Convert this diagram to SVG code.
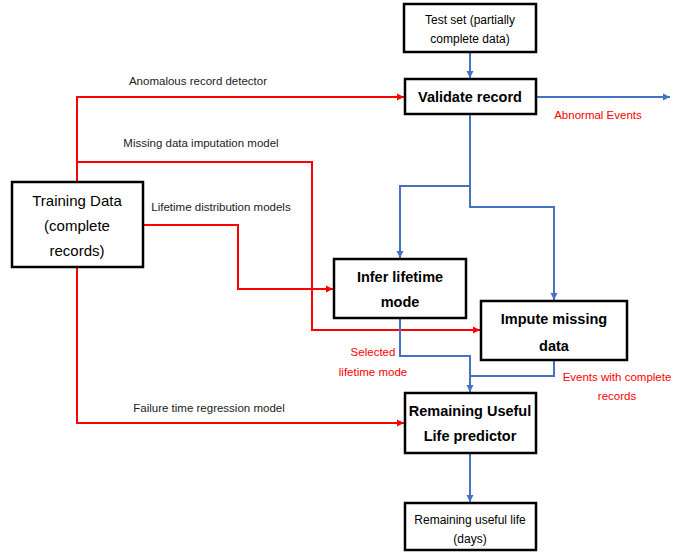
<svg xmlns="http://www.w3.org/2000/svg" width="689" height="555" viewBox="0 0 689 555">
<style>
.box{fill:#fff;stroke:#000;stroke-width:2.5}
.t{font-family:"Liberation Sans",Arial,sans-serif;fill:#000;text-anchor:middle}
.n{font-size:12px}
.b{font-size:14.5px;font-weight:bold}
.lab{font-family:"Liberation Sans",Arial,sans-serif;font-size:11.5px;fill:#222;text-anchor:middle}
.rl{font-family:"Liberation Sans",Arial,sans-serif;font-size:11.5px;fill:#f00;text-anchor:middle}
.red{fill:none;stroke:#f00;stroke-width:2}
.blue{fill:none;stroke:#4472c4;stroke-width:2}
</style>
<defs>
<marker id="ar" markerWidth="8" markerHeight="8" refX="7" refY="4" orient="auto" markerUnits="userSpaceOnUse"><path d="M0,0.5 L7,4 L0,7.5 z" fill="#f00"/></marker>
<marker id="ab" markerWidth="8" markerHeight="8" refX="7" refY="4" orient="auto" markerUnits="userSpaceOnUse"><path d="M0,0.5 L7,4 L0,7.5 z" fill="#4472c4"/></marker>
</defs>
<rect width="689" height="555" fill="#fff"/>
<g id="connectors">
<path class="red" d="M77,182 V97 H404" marker-end="url(#ar)"/>
<path class="red" d="M77,162 H312 V330 H480" marker-end="url(#ar)"/>
<path class="red" d="M143,225 H238 V289 H333" marker-end="url(#ar)"/>
<path class="red" d="M77,267 V423 H404" marker-end="url(#ar)"/>
<path class="blue" d="M470,52 V78" marker-end="url(#ab)"/>
<path class="blue" d="M536,97 H670" marker-end="url(#ab)"/>
<path class="blue" d="M470,114 V186 H400 V258" marker-end="url(#ab)"/>
<path class="blue" d="M470,186 V207 H554 V300" marker-end="url(#ab)"/>
<path class="blue" d="M400,318 V356 H470 V392" marker-end="url(#ab)"/>
<path class="blue" d="M554,360 V376 H470"/>
<path class="blue" d="M470,453 V502" marker-end="url(#ab)"/>
<text class="lab" x="198" y="85">Anomalous record detector</text>
<text class="lab" x="201" y="147">Missing data imputation model</text>
<text class="lab" x="221" y="211">Lifetime distribution models</text>
<text class="lab" x="209" y="412">Failure time regression model</text>
<text class="rl" x="598" y="119">Abnormal Events</text>
<text class="rl" x="373" y="356">Selected</text>
<text class="rl" x="373" y="376">lifetime mode</text>
<text class="rl" x="617" y="381">Events with complete</text>
<text class="rl" x="617" y="400">records</text>
</g>
<g id="training"><rect class="box" x="12" y="182" width="131" height="85"/>
<text class="t" x="77" y="206" font-size="15">Training Data</text>
<text class="t" x="77" y="231" font-size="15">(complete</text>
<text class="t" x="77" y="256" font-size="15">records)</text></g>
<g id="testset"><rect class="box" x="404" y="4" width="132" height="48"/>
<text class="t n" x="470" y="24">Test set (partially</text>
<text class="t n" x="470" y="43">complete data)</text></g>
<g id="validate"><rect class="box" x="405" y="79" width="131" height="35"/>
<text class="t b" x="470" y="102">Validate record</text></g>
<g id="infer"><rect class="box" x="334" y="259" width="132" height="59"/>
<text class="t b" x="400" y="282">Infer lifetime</text>
<text class="t b" x="400" y="307">mode</text></g>
<g id="impute"><rect class="box" x="481" y="301" width="146" height="59"/>
<text class="t b" x="554" y="324">Impute missing</text>
<text class="t b" x="554" y="351">data</text></g>
<g id="rul"><rect class="box" x="405" y="393" width="131" height="60"/>
<text class="t b" x="470" y="416">Remaining Useful</text>
<text class="t b" x="470" y="441">Life predictor</text></g>
<g id="rulout"><rect class="box" x="405" y="503" width="131" height="47"/>
<text class="t n" x="470" y="524">Remaining useful life</text>
<text class="t n" x="470" y="543">(days)</text></g>
</svg>
